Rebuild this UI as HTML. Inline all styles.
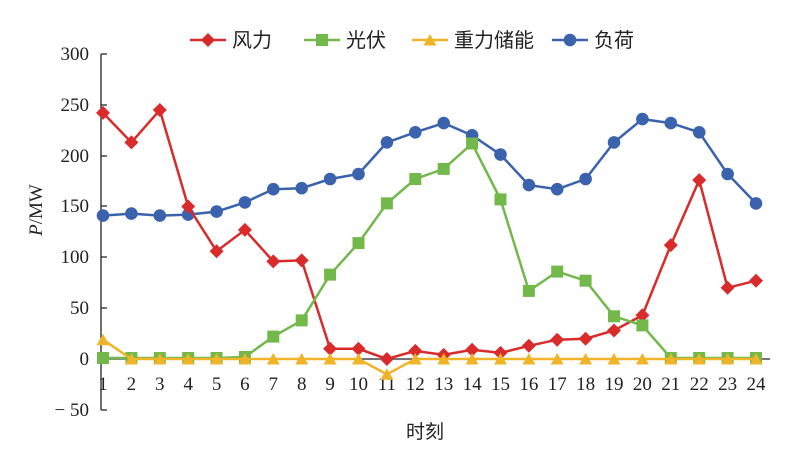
<!DOCTYPE html>
<html><head><meta charset="utf-8"><style>body{margin:0;background:#fff}svg{display:block}</style></head><body>
<svg width="800" height="452" xmlns="http://www.w3.org/2000/svg" font-family="Liberation Serif, serif">
<defs>
<marker id="d" markerWidth="16" markerHeight="16" refX="8" refY="8" markerUnits="userSpaceOnUse"><path d="M8 1 L15 8 L8 15 L1 8Z" fill="#d92b2b"/></marker>
<marker id="s" markerWidth="14" markerHeight="14" refX="7" refY="7" markerUnits="userSpaceOnUse"><rect x="1" y="1" width="12" height="12" fill="#72b84a"/></marker>
<marker id="t" markerWidth="14" markerHeight="14" refX="7" refY="7" markerUnits="userSpaceOnUse"><path d="M7 1 L13.5 12.5 L0.5 12.5Z" fill="#f0b429"/></marker>
<marker id="c" markerWidth="14" markerHeight="14" refX="7" refY="7" markerUnits="userSpaceOnUse"><circle cx="7" cy="7" r="6.3" fill="#3a62ad"/></marker>
</defs>
<g stroke="#222" stroke-width="1.3" fill="none">
<path d="M101 54 V410"/>
<path d="M101 54 h6 M101 105 h6 M101 156 h6 M101 206 h6 M101 257 h6 M101 308 h6 M101 410 h6"/>
<path d="M101 359 H770"/>
</g>
<g font-size="19" fill="#222" text-anchor="end">
<text x="89" y="60">300</text><text x="89" y="111">250</text><text x="89" y="162">200</text><text x="89" y="212">150</text><text x="89" y="263">100</text><text x="89" y="314">50</text><text x="89" y="365">0</text><text x="89" y="416">− 50</text>
</g>
<g font-size="19" fill="#222" text-anchor="middle">
<text x="103" y="390">1</text><text x="131.4" y="390">2</text><text x="159.8" y="390">3</text><text x="188.2" y="390">4</text><text x="216.6" y="390">5</text><text x="244.9" y="390">6</text><text x="273.3" y="390">7</text><text x="301.7" y="390">8</text><text x="330.1" y="390">9</text><text x="358.5" y="390">10</text><text x="386.9" y="390">11</text><text x="415.3" y="390">12</text><text x="443.7" y="390">13</text><text x="472.1" y="390">14</text><text x="500.5" y="390">15</text><text x="528.9" y="390">16</text><text x="557.2" y="390">17</text><text x="585.6" y="390">18</text><text x="614" y="390">19</text><text x="642.4" y="390">20</text><text x="670.8" y="390">21</text><text x="699.2" y="390">22</text><text x="727.6" y="390">23</text><text x="756" y="390">24</text>
</g>
<text x="425" y="438" font-size="19" text-anchor="middle" font-family="Noto Sans CJK SC, sans-serif" fill="#222">时刻</text>
<text transform="translate(42 210) rotate(-90)" font-size="19" text-anchor="middle" fill="#222"><tspan font-style="italic">P</tspan>/MW</text>
<g fill="none" stroke-width="2.5">
<polyline stroke="#3a62ad" marker-start="url(#c)" marker-mid="url(#c)" marker-end="url(#c)" points="103,215.6 131.4,213.6 159.8,215.6 188.2,214.6 216.6,211.6 244.9,202.4 273.3,189.2 301.7,188.2 330.1,179 358.5,174 386.9,142.4 415.3,132.3 443.7,123.1 472.1,135.3 500.5,154.6 528.9,185.1 557.2,189.2 585.6,179 614,142.4 642.4,119.1 670.8,123.1 699.2,132.3 727.6,174 756,203.4"/>
<polyline stroke="#d92b2b" marker-start="url(#d)" marker-mid="url(#d)" marker-end="url(#d)" points="103,112.9 131.4,142.4 159.8,110 188.2,206.5 216.6,251.2 244.9,229.9 273.3,261.4 301.7,260.4 330.1,348.8 358.5,348.8 386.9,359 415.3,350.9 443.7,354.9 472.1,349.8 500.5,352.9 528.9,345.8 557.2,339.7 585.6,338.7 614,330.5 642.4,315.3 670.8,245.1 699.2,180.1 727.6,287.8 756,280.7"/>
<polyline stroke="#72b84a" marker-start="url(#s)" marker-mid="url(#s)" marker-end="url(#s)" points="103,358 131.4,358 159.8,358 188.2,358 216.6,358 244.9,357 273.3,336.6 301.7,320.4 330.1,274.6 358.5,243.1 386.9,203.4 415.3,179 443.7,168.9 472.1,143.5 500.5,199.4 528.9,290.9 557.2,271.6 585.6,280.7 614,316.3 642.4,325.4 670.8,358 699.2,358 727.6,358 756,358"/>
<polyline stroke="#f0b429" marker-start="url(#t)" marker-mid="url(#t)" marker-end="url(#t)" points="103,339.7 131.4,359 159.8,359 188.2,359 216.6,359 244.9,359 273.3,359 301.7,359 330.1,359 358.5,359 386.9,374.3 415.3,359 443.7,359 472.1,359 500.5,359 528.9,359 557.2,359 585.6,359 614,359 642.4,359 670.8,359 699.2,359 727.6,359 756,359"/>
</g>
<g stroke-width="2.5" fill="none">
<path stroke="#d92b2b" marker-mid="url(#d)" d="M190 40 L208 40 L226 40"/>
<path stroke="#72b84a" marker-mid="url(#s)" d="M304 40 L322 40 L340 40"/>
<path stroke="#f0b429" marker-mid="url(#t)" d="M412 40 L430 40 L448 40"/>
<path stroke="#3a62ad" marker-mid="url(#c)" d="M552 40 L570 40 L588 40"/>
</g>
<g font-size="20" fill="#222" font-family="Noto Sans CJK SC, sans-serif">
<text x="232" y="47">风力</text><text x="346" y="47">光伏</text><text x="454" y="47">重力储能</text><text x="594" y="47">负荷</text>
</g>
</svg>
</body></html>
